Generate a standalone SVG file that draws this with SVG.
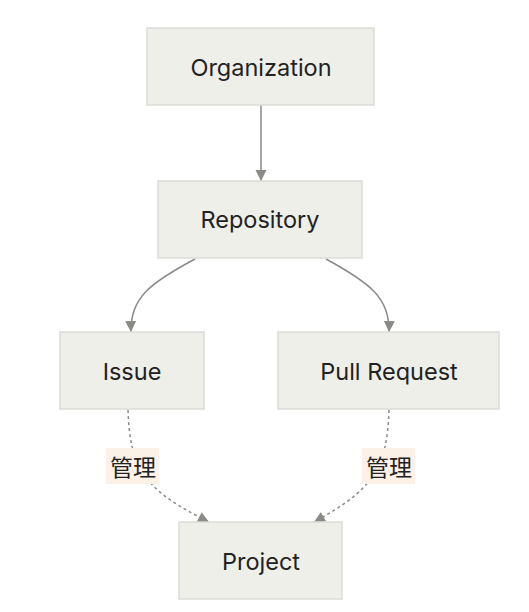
<svg xmlns="http://www.w3.org/2000/svg" width="529" height="612" viewBox="0 0 529 612">
<style>
.node rect{fill:#efefe9;stroke:#dcdcd6;stroke-width:1.5}
.node text{font-family:Inter,"Noto Sans",sans-serif;font-size:23.5px;fill:#222;text-anchor:middle;dominant-baseline:central}
.edge{fill:none;stroke:#8a8a86;stroke-width:1.5}
.dash{stroke-dasharray:3 3}
.lbl rect{fill:#fbf1e7}
.lbl text{font-family:"Noto Sans CJK SC","Noto Sans CJK JP",sans-serif;font-size:23px;fill:#222;text-anchor:middle;dominant-baseline:central}
</style>
<defs>
<marker id="arr" viewBox="0 0 10 10" refX="10" refY="5" markerWidth="11" markerHeight="12" markerUnits="userSpaceOnUse" orient="auto">
<path d="M0,0 L10,5 L0,10 z" fill="#8a8a86"/>
</marker>
</defs>
<rect width="529" height="612" fill="#fff"/>
<g id="connectors">
<path class="edge" d="M261,105 L261,181" marker-end="url(#arr)"/>
<path class="edge" d="M195,259 C150,283 130,298 131,332" marker-end="url(#arr)"/>
<path class="edge" d="M326,259 C370,283 390,298 389,332" marker-end="url(#arr)"/>
<path class="edge dash" d="M128,410 C130,470 145,490 209,522" marker-end="url(#arr)"/>
<path class="edge dash" d="M389,410 C387,470 372,490 314,522" marker-end="url(#arr)"/>
<g class="lbl"><rect x="106" y="448" width="53" height="36"/><text x="133" y="466">管理</text></g>
<g class="lbl"><rect x="362" y="448" width="53" height="36"/><text x="389" y="466">管理</text></g>
</g>
<g id="organization" class="node"><rect x="147" y="28" width="227" height="77"/><text x="261" y="67">Organization</text></g>
<g id="repository" class="node"><rect x="158" y="181" width="204" height="77"/><text x="260" y="219">Repository</text></g>
<g id="issue" class="node"><rect x="60" y="332" width="144" height="77"/><text x="132" y="371">Issue</text></g>
<g id="pullrequest" class="node"><rect x="278" y="332" width="221" height="77"/><text x="389" y="371">Pull Request</text></g>
<g id="project" class="node"><rect x="179" y="522" width="163" height="77"/><text x="261" y="561">Project</text></g>
</svg>
